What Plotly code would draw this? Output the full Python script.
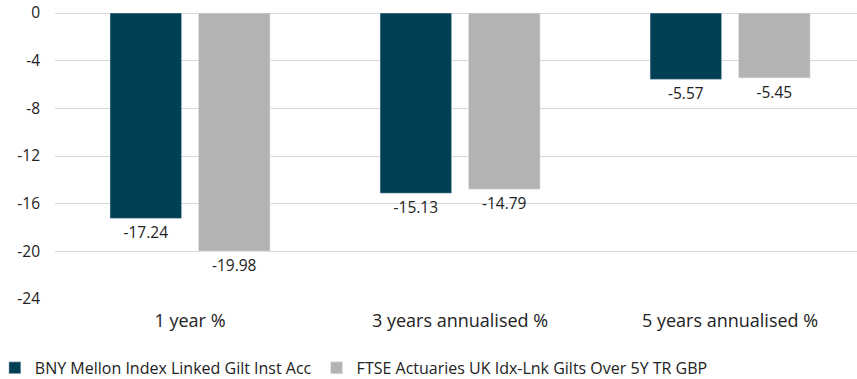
import plotly.graph_objects as go

categories = ["1 year %", "3 years annualised %", "5 years annualised %"]
fund_name = "BNY Mellon Index Linked Gilt Inst Acc"
bench_name = "FTSE Actuaries UK Idx-Lnk Gilts Over 5Y TR GBP"
fund_values = [-17.24, -15.13, -5.57]
bench_values = [-19.98, -14.79, -5.45]
y_ticks = [0, -4, -8, -12, -16, -20, -24]

font_family = "Open Sans, sans-serif"

fig = go.Figure()
fig.add_trace(go.Bar(
    name=fund_name, x=categories, y=fund_values,
    marker_color="#003f54",
    text=[f"{v:.2f}" for v in fund_values], textposition="outside",
    textfont=dict(size=15.5, color="#222222"), cliponaxis=False,
))
fig.add_trace(go.Bar(
    name=bench_name, x=categories, y=bench_values,
    marker_color="#b3b3b3",
    text=[f"{v:.2f}" for v in bench_values], textposition="outside",
    textfont=dict(size=15.5, color="#222222"), cliponaxis=False,
))

fig.update_layout(
    width=857, height=379,
    margin=dict(l=55, r=0, t=13, b=80, autoexpand=False),
    plot_bgcolor="white", paper_bgcolor="white",
    font=dict(family=font_family, size=15, color="#222222"),
    barmode="group", bargap=0.345, bargroupgap=0.19,
    showlegend=True,
    legend=dict(orientation="h", xref="paper", yref="paper",
                x=-0.075, y=-0.241, xanchor="left", yanchor="middle",
                font=dict(size=16, color="#222222"),
                traceorder="normal"),
    uniformtext=dict(mode=False),
    hovermode=False,
)
fig.update_xaxes(range=[-0.5, 2.47], showgrid=False, showline=False, zeroline=False,
                 tickfont=dict(size=18, color="#222222"), ticks="", ticklabelstandoff=9,
                 automargin=False)
fig.update_yaxes(range=[-24, 0], tickvals=y_ticks, ticktext=[str(v) for v in y_ticks],
                 showgrid=True, gridcolor="#d9d9d9", gridwidth=1,
                 zeroline=True, zerolinecolor="#d9d9d9", zerolinewidth=1,
                 tickfont=dict(size=15.5, color="#222222"), ticks="",
                 ticklabelstandoff=14, ticklabeloverflow="allow",
                 showline=False, automargin=False)

# remove the browser's default 8px page margin so the figure fills the window
fig.write_html("out.html", config={"displayModeBar": False},
               post_script="document.body.style.margin='0';")
